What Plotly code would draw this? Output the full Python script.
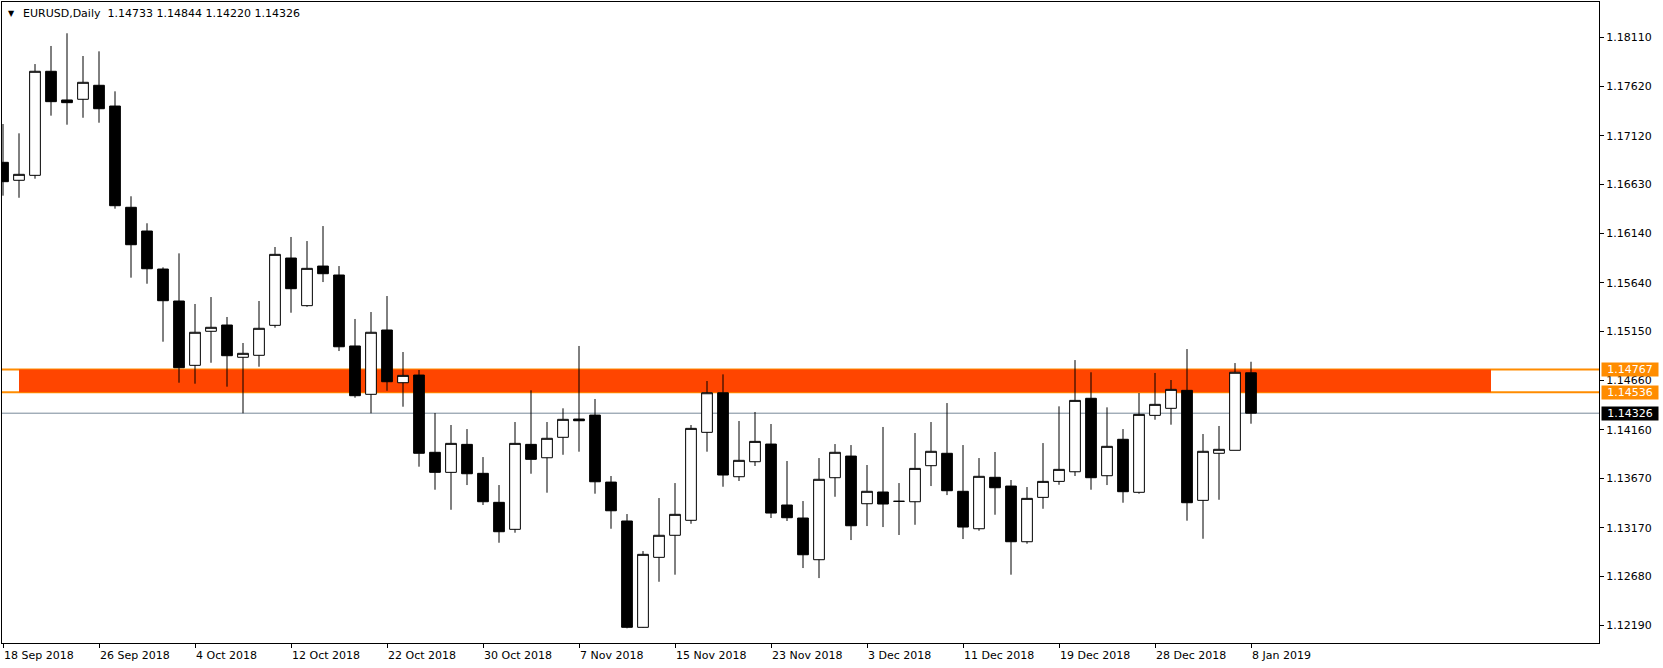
import plotly.graph_objects as go

# ---- data (EURUSD daily candles) ----
opens = [1.16853, 1.16672, 1.16722, 1.17770, 1.17481, 1.17488, 1.17629, 1.17420, 1.16400, 1.16161,
         1.15778, 1.15456, 1.14808, 1.15151, 1.15214, 1.14889, 1.14909, 1.15211, 1.15889, 1.15409,
         1.15808, 1.15718, 1.15003, 1.14516, 1.15164, 1.14633, 1.14710, 1.13932, 1.13730, 1.14012,
         1.13720, 1.13428, 1.13156, 1.14012, 1.13877, 1.14083, 1.14267, 1.14307, 1.13632, 1.13240,
         1.12169, 1.12874, 1.13096, 1.13247, 1.14133, 1.14532, 1.13686, 1.13837, 1.14015, 1.13401,
         1.13270, 1.12850, 1.13676, 1.13894, 1.13414, 1.13532, 1.13438, 1.13434, 1.13797, 1.13922,
         1.13539, 1.13162, 1.13680, 1.13592, 1.13031, 1.13478, 1.13639, 1.13736, 1.14476, 1.13696,
         1.14063, 1.13529, 1.14304, 1.14375, 1.14556, 1.13448, 1.13922, 1.13952, 1.14733]
highs = [1.17239, 1.17145, 1.17843, 1.18025, 1.18153, 1.17924, 1.17971, 1.17568, 1.16511, 1.16239,
         1.15795, 1.15936, 1.15426, 1.15496, 1.15295, 1.15033, 1.15456, 1.16000, 1.16101, 1.16060,
         1.16211, 1.15808, 1.15275, 1.15345, 1.15506, 1.14942, 1.14761, 1.14328, 1.14207, 1.14166,
         1.13884, 1.13602, 1.14237, 1.14556, 1.14237, 1.14375, 1.15003, 1.14469, 1.13693, 1.13310,
         1.12937, 1.13471, 1.13622, 1.14207, 1.14650, 1.14717, 1.14247, 1.14338, 1.14217, 1.13844,
         1.13441, 1.13874, 1.14015, 1.14005, 1.13804, 1.14187, 1.13622, 1.14126, 1.14237, 1.14428,
         1.14005, 1.13874, 1.13935, 1.13653, 1.13582, 1.14025, 1.14395, 1.14861, 1.14738, 1.14385,
         1.14166, 1.14529, 1.14731, 1.14660, 1.14972, 1.14116, 1.14197, 1.14831, 1.14844]
lows = [1.16517, 1.16496, 1.16688, 1.17323, 1.17232, 1.17302, 1.17252, 1.16386, 1.15691, 1.15630,
        1.15046, 1.14633, 1.14623, 1.14834, 1.14593, 1.14325, 1.14794, 1.15187, 1.15338, 1.15398,
        1.15647, 1.14952, 1.14482, 1.14325, 1.14552, 1.14391, 1.13787, 1.13555, 1.13353, 1.13602,
        1.13401, 1.13021, 1.13122, 1.13716, 1.13525, 1.13907, 1.13938, 1.13515, 1.13162, 1.12159,
        1.12165, 1.12628, 1.12699, 1.13212, 1.13938, 1.13585, 1.13643, 1.13794, 1.13270, 1.13240,
        1.12766, 1.12665, 1.13484, 1.13048, 1.13189, 1.13179, 1.13099, 1.13202, 1.13592, 1.13501,
        1.13058, 1.13142, 1.13303, 1.12699, 1.13011, 1.13363, 1.13605, 1.13693, 1.13555, 1.13602,
        1.13424, 1.13515, 1.14260, 1.14210, 1.13243, 1.13061, 1.13454, 1.13952, 1.14220]
closes = [1.16658, 1.16732, 1.17770, 1.17464, 1.17454, 1.17659, 1.17393, 1.16416, 1.16023, 1.15781,
          1.15459, 1.14784, 1.15141, 1.15191, 1.14905, 1.14929, 1.15181, 1.15926, 1.15580, 1.15785,
          1.15731, 1.14995, 1.14502, 1.15141, 1.14643, 1.14707, 1.13922, 1.13730, 1.14022, 1.13716,
          1.13434, 1.13132, 1.14022, 1.13861, 1.14073, 1.14264, 1.14250, 1.13635, 1.13343, 1.12169,
          1.12904, 1.13096, 1.13307, 1.14173, 1.14532, 1.13703, 1.13851, 1.14042, 1.13320, 1.13273,
          1.12900, 1.13660, 1.13932, 1.13192, 1.13539, 1.13411, 1.13438, 1.13770, 1.13942, 1.13545,
          1.13179, 1.13690, 1.13575, 1.13031, 1.13468, 1.13639, 1.13760, 1.14455, 1.13676, 1.13992,
          1.13535, 1.14314, 1.14415, 1.14566, 1.13424, 1.13942, 1.13962, 1.14738, 1.14326]

# x-axis date labels (every 6th trading day)
date_tick_index = [0, 6, 12, 18, 24, 30, 36, 42, 48, 54, 60, 66, 72, 78]
date_tick_labels = ["18 Sep 2018", "26 Sep 2018", "4 Oct 2018", "12 Oct 2018", "22 Oct 2018",
                    "30 Oct 2018", "7 Nov 2018", "15 Nov 2018", "23 Nov 2018", "3 Dec 2018",
                    "11 Dec 2018", "19 Dec 2018", "28 Dec 2018", "8 Jan 2019"]

# price scale labels
price_ticks = [1.12190, 1.12680, 1.13170, 1.13670, 1.14160, 1.14660, 1.15150,
               1.15640, 1.16140, 1.16630, 1.17120, 1.17620, 1.18110]

# zone and level lines
zone_top = 1.14767
zone_bottom = 1.14536
zone_start_index = 1
zone_end_index = 93
bid_price = 1.14326

symbol_title = "EURUSD,Daily"

FONT = "DejaVu Sans"
n = len(opens)
xs = list(range(n))

fig = go.Figure()
fig.add_trace(go.Candlestick(
    x=xs, open=opens, high=highs, low=lows, close=closes,
    increasing=dict(line=dict(color="black", width=1), fillcolor="white"),
    decreasing=dict(line=dict(color="black", width=1), fillcolor="black"),
    whiskerwidth=0,
    showlegend=False,
))

# orange zone rectangle (behind candles)
fig.add_shape(type="rect", xref="x", yref="y",
              x0=zone_start_index, x1=zone_end_index, y0=zone_bottom, y1=zone_top,
              fillcolor="#FF4500", line=dict(width=0), layer="below")
# horizontal level lines
for lvl in (zone_top, zone_bottom):
    fig.add_shape(type="line", xref="paper", yref="y", x0=0, x1=1, y0=lvl, y1=lvl,
                  line=dict(color="#FF8C00", width=2), layer="below")
fig.add_shape(type="line", xref="paper", yref="y", x0=0, x1=1, y0=bid_price, y1=bid_price,
              line=dict(color="#778899", width=1), layer="below")

# price labels on the right scale
for val, bg in ((zone_top, "#FF8C00"), (zone_bottom, "#FF8C00"), (bid_price, "black")):
    fig.add_annotation(xref="paper", yref="y", x=1, y=val, xanchor="left", yanchor="middle",
                       xshift=2, text=f"{val:.5f}", showarrow=False,
                       bgcolor=bg, width=56, height=13, borderpad=0,
                       font=dict(family=FONT, size=11, color="white"))

# title line
title_text = (symbol_title + "\u00a0\u00a0" +
              " ".join(f"{v:.5f}" for v in (opens[-1], highs[-1], lows[-1], closes[-1])))
fig.add_annotation(xref="paper", yref="paper", x=0, y=1, xanchor="left", yanchor="middle",
                   xshift=19, yshift=-11, text=title_text, showarrow=False,
                   font=dict(family=FONT, size=11, color="black"))
fig.add_annotation(xref="paper", yref="paper", x=0, y=1, xanchor="center", yanchor="middle",
                   xshift=9, yshift=-11, text="\u25BC", showarrow=False,
                   font=dict(family=FONT, size=8, color="black"))

fig.update_layout(
    width=1663, height=668,
    margin=dict(l=2, r=64, t=2, b=25),
    paper_bgcolor="white", plot_bgcolor="white",
    boxgap=0.33, boxgroupgap=0,
    font=dict(family=FONT, size=11, color="black"),
    xaxis=dict(
        range=[-0.0625, 99.75], rangeslider=dict(visible=False),
        tickmode="array", tickvals=date_tick_index, ticktext=date_tick_labels,
        ticks="outside", ticklen=4, tickcolor="black",
        ticklabelposition="outside right", ticklabelstandoff=2,
        showgrid=False, zeroline=False,
        showline=True, linecolor="black", linewidth=1, mirror=True,
        tickfont=dict(family=FONT, size=11, color="black"),
    ),
    yaxis=dict(
        side="right", range=[1.12011, 1.18468],
        tickmode="array", tickvals=price_ticks,
        ticktext=[f"{v:.5f}" for v in price_ticks],
        ticks="outside", ticklen=4, tickcolor="black",
        showgrid=False, zeroline=False,
        showline=True, linecolor="black", linewidth=1, mirror=True,
        tickfont=dict(family=FONT, size=11, color="black"),
    ),
)

fig.write_html(
    "out.html",
    config={"displayModeBar": False},
    post_script="document.body.style.margin='0';document.body.style.overflow='hidden';",
)
